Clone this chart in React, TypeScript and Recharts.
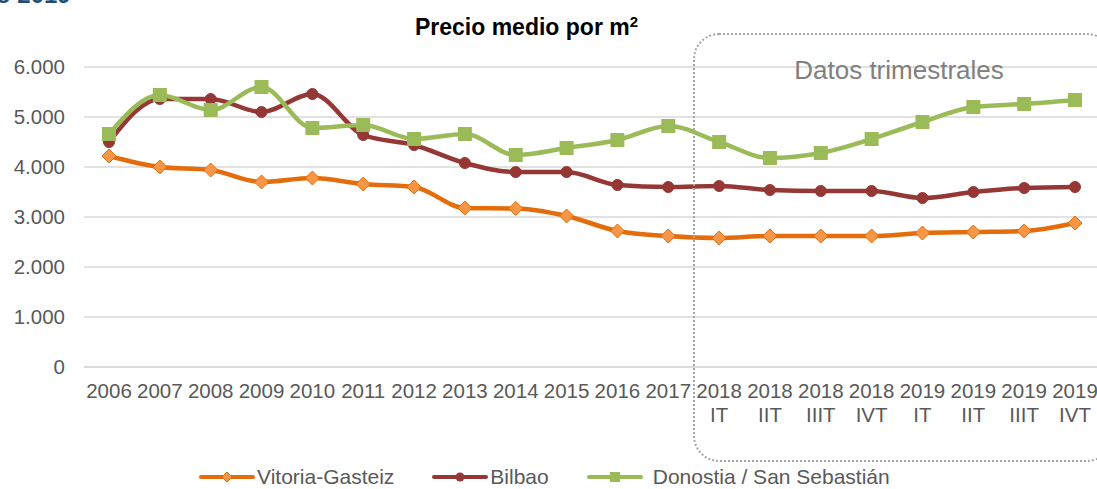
import { CartesianGrid, Line, LineChart, XAxis, YAxis } from 'recharts'

const categories = [
  '2006', '2007', '2008', '2009', '2010', '2011', '2012', '2013', '2014', '2015', '2016', '2017',
  '2018\nIT', '2018\nIIT', '2018\nIIIT', '2018\nIVT', '2019\nIT', '2019\nIIT', '2019\nIIIT', '2019\nIVT',
]
const vitoria = [4220, 4000, 3940, 3700, 3780, 3660, 3600, 3180, 3170, 3020, 2720, 2620, 2580, 2620, 2620, 2620, 2680, 2700, 2720, 2880]
const bilbao = [4500, 5360, 5360, 5100, 5460, 4640, 4440, 4080, 3900, 3900, 3640, 3600, 3620, 3540, 3520, 3520, 3380, 3500, 3580, 3600]
const donostia = [4660, 5440, 5140, 5600, 4780, 4840, 4560, 4660, 4240, 4380, 4540, 4820, 4500, 4180, 4280, 4560, 4900, 5200, 5260, 5340]
const yTicks = [0, 1000, 2000, 3000, 4000, 5000, 6000]

const rows = categories.map((c, i) => ({ cat: c, vitoria: vitoria[i], bilbao: bilbao[i], donostia: donostia[i] }))

const ORANGE = '#E46C0A'
const ORANGE_LIGHT = '#F79646'
const RED = '#953735'
const GREEN = '#9BBB59'
const TEXT = '#595959'
const FONT = '"Liberation Sans", Arial, sans-serif'

const fmt = (v: number) => (v === 0 ? '0' : v.toLocaleString('de-DE'))

function Diamond({ cx, cy }: any) {
  if (cx == null || cy == null) return null
  const s = 7
  return (
    <polygon
      points={`${cx},${cy - s} ${cx + s},${cy} ${cx},${cy + s} ${cx - s},${cy}`}
      fill={ORANGE_LIGHT}
      stroke={ORANGE}
      strokeWidth={1}
    />
  )
}

function Square({ cx, cy }: any) {
  if (cx == null || cy == null) return null
  return <rect x={cx - 7} y={cy - 7} width={14} height={14} fill={GREEN} />
}

function XTick({ x, y, payload }: any) {
  const lines = String(payload.value).split('\n')
  return (
    <text x={x} y={y} textAnchor="middle" fill={TEXT} fontSize={20.5} fontFamily={FONT}>
      {lines.map((l, i) => (
        <tspan key={i} x={x} dy={i === 0 ? 29 : 24}>
          {l}
        </tspan>
      ))}
    </text>
  )
}

const legendItems = [
  { name: 'Vitoria-Gasteiz', color: ORANGE, marker: 'diamond', textGap: 2 },
  { name: 'Bilbao', color: RED, marker: 'circle', textGap: 2 },
  { name: 'Donostia / San Sebastián', color: GREEN, marker: 'square', textGap: 10 },
]

function LegendIcon({ color, marker }: { color: string; marker: string }) {
  return (
    <svg width={56} height={14} style={{ display: 'block' }}>
      <line x1={2} y1={7} x2={54} y2={7} stroke={color} strokeWidth={4} strokeLinecap="round" />
      {marker === 'diamond' && <polygon points="28,2 33,7 28,12 23,7" fill={ORANGE_LIGHT} stroke={ORANGE} />}
      {marker === 'circle' && <circle cx={28} cy={7} r={4.5} fill={color} />}
      {marker === 'square' && <rect x={23} y={2} width={10} height={10} fill={color} />}
    </svg>
  )
}

export default function App() {
  return (
    <div style={{ position: 'absolute', left: 0, top: 0, width: 1097, height: 489, overflow: 'hidden', background: '#fff', fontFamily: FONT }}>
      <div style={{ position: 'absolute', left: -4, top: -19, fontSize: 24, fontWeight: 700, color: '#1F4E79', lineHeight: '28px' }}>
        o 2019
      </div>
      <div style={{ position: 'absolute', left: 0, width: 1053, top: 13, textAlign: 'center', fontSize: 23, fontWeight: 700, color: '#000', lineHeight: '28px' }}>
        Precio medio por m<sup style={{ fontSize: 15, verticalAlign: 'top', lineHeight: '18px' }}>2</sup>
      </div>
      <LineChart width={1100} height={489} data={rows} margin={{ top: 67, right: 0, left: 0, bottom: 0 }}>
        <CartesianGrid horizontal vertical={false} stroke="#D9D9D9" strokeWidth={1.5} />
        <XAxis
          dataKey="cat"
          interval={0}
          tick={<XTick />}
          tickLine={false}
          tickSize={0}
          padding={{ left: 25, right: 25 }}
          axisLine={{ stroke: '#D9D9D9', strokeWidth: 1.5 }}
          height={122}
        />
        <YAxis
          width={84}
          domain={[0, 6000]}
          ticks={yTicks}
          tickFormatter={fmt}
          axisLine={false}
          tickLine={false}
          tickSize={0}
          tickMargin={19}
          tick={{ fill: TEXT, fontSize: 20.5, fontFamily: FONT }}
        />
        <Line
          type="monotone"
          dataKey="vitoria"
          name="Vitoria-Gasteiz"
          stroke={ORANGE}
          strokeWidth={4.5}
          dot={<Diamond />}
          activeDot={false}
          isAnimationActive={false}
        />
        <Line
          type="monotone"
          dataKey="bilbao"
          name="Bilbao"
          stroke={RED}
          strokeWidth={4.5}
          dot={{ r: 5.5, fill: RED, stroke: RED, strokeWidth: 1 }}
          activeDot={false}
          isAnimationActive={false}
        />
        <Line
          type="monotone"
          dataKey="donostia"
          name="Donostia / San Sebastián"
          stroke={GREEN}
          strokeWidth={4.5}
          dot={<Square />}
          activeDot={false}
          isAnimationActive={false}
        />
      </LineChart>
      <div
        style={{
          position: 'absolute',
          left: 693,
          top: 33,
          width: 420,
          height: 429,
          border: '2px dotted #A6A6A6',
          borderRadius: 26,
          boxSizing: 'border-box',
          pointerEvents: 'none',
        }}
      />
      <div style={{ position: 'absolute', left: 794, width: 210, top: 55, textAlign: 'center', fontSize: 26, color: '#808080', lineHeight: '30px', whiteSpace: 'nowrap' }}>
        Datos trimestrales
      </div>
      <div style={{ position: 'absolute', left: 199, top: 469, height: 16, display: 'flex', alignItems: 'center', fontSize: 21, color: TEXT, lineHeight: '16px', whiteSpace: 'nowrap' }}>
        {legendItems.map((it, i) => (
          <div key={it.name} style={{ display: 'flex', alignItems: 'center', marginLeft: i === 0 ? 0 : 38 }}>
            <LegendIcon color={it.color} marker={it.marker} />
            <span style={{ marginLeft: it.textGap }}>{it.name}</span>
          </div>
        ))}
      </div>
    </div>
  )
}
